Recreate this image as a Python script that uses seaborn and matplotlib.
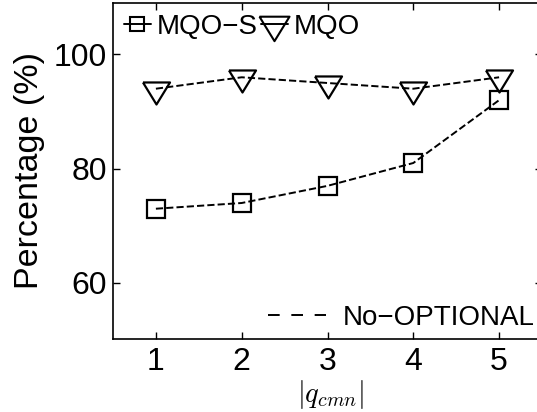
import matplotlib
matplotlib.use("Agg")
import matplotlib.pyplot as plt
import seaborn as sns
import pandas as pd
from matplotlib.lines import Line2D

sizes = [1, 2, 3, 4, 5]
mqo_s = [73, 74, 77, 81, 92]
mqo = [94, 96, 95, 94, 96]
series_names = ["MQO\u2212S", "MQO"]
extra_label = "No\u2212OPTIONAL"

sns.set_style("ticks")
plt.rcParams['font.family'] = ['Liberation Sans', 'DejaVu Sans']
plt.rcParams['mathtext.fontset'] = 'cm'
for k in ["text.color", "axes.labelcolor", "xtick.color", "ytick.color", "axes.edgecolor"]:
    plt.rcParams[k] = "black"

W, H = 537, 412
fig = plt.figure(figsize=(W / 100, H / 100), dpi=100)
ax = fig.add_axes([113 / W, 73 / H, 429 / W, 336 / H])

tri = [(-1, 0.52), (1, 0.52), (0, -1.11), (-1, 0.52)]

df1 = pd.DataFrame({"x": sizes, "y": mqo_s})
df2 = pd.DataFrame({"x": sizes, "y": mqo})
common = dict(color="k", linestyle="--", linewidth=1.4, markerfacecolor="none",
              markeredgecolor="k", markeredgewidth=1.6, dashes=(3.6, 2.3))
sns.lineplot(data=df1, x="x", y="y", ax=ax, marker="s", markersize=13.5, **common)
sns.lineplot(data=df2, x="x", y="y", ax=ax, marker=tri, markersize=21.6, **common)

ax.set_xlim(0.5, 5.5)
ax.set_ylim(50.2, 109)
ax.set_xticks(sizes)
ax.set_yticks([60, 80, 100])
ax.tick_params(direction="in", length=5, labelsize=23, top=True, right=True, width=1)
ax.tick_params(axis="x", pad=5.5)
ax.tick_params(axis="y", pad=4.3)
for s in ax.spines.values():
    s.set_linewidth(1.2)
ax.set_xlabel(r"$|q_{cmn}|$", fontsize=20.5)
ax.xaxis.label.set_verticalalignment("bottom")
ax.set_ylabel("Percentage (%)", fontsize=24.5)
ax.yaxis.set_label_coords(-0.159, 0.501)
ax.xaxis.set_label_coords(0.506, -(411 - 339) / 336)

h1 = Line2D([], [], color="k", linestyle="-", linewidth=1.4, marker="s", markersize=9.5,
            markerfacecolor="none", markeredgewidth=1.5)
h2 = Line2D([], [], color="k", linestyle="-", linewidth=1.4, marker=tri, markersize=24,
            markerfacecolor="none", markeredgewidth=1.5)
leg1 = ax.legend([h1, h2], series_names, loc="center left", ncol=2, frameon=False,
                 fontsize=20, handlelength=0.97, handletextpad=0.22, columnspacing=0.1,
                 borderpad=0, borderaxespad=0,
                 bbox_to_anchor=(124 / W, 1 - 27 / H), bbox_transform=fig.transFigure)
ax.add_artist(leg1)
h3 = Line2D([], [], color="k", linestyle="--", linewidth=1.4, dashes=(6, 6))
ax.legend([h3], [extra_label], loc="center right", frameon=False, fontsize=20,
          handlelength=2.1, handletextpad=0.6, borderpad=0, borderaxespad=0,
          bbox_to_anchor=(535 / W, 1 - 318 / H), bbox_transform=fig.transFigure)

fig.savefig("out.png", dpi=100)
